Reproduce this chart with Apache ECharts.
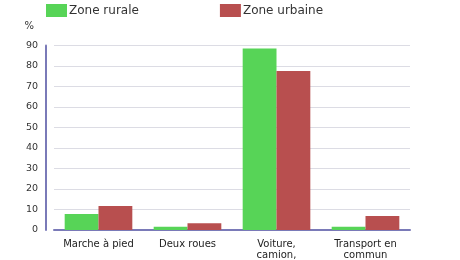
<!DOCTYPE html>
<html><head><meta charset="utf-8">
<script src="https://cdn.jsdelivr.net/npm/echarts@6/dist/echarts.min.js"></script>
<style>html,body{margin:0;padding:0;background:#fff}#c{width:460px;height:260px}</style>
</head><body><div id="c"></div>
<script>
const categories = ["Marche à pied", "Deux roues", "Voiture,\ncamion,\nfourgonnette", "Transport en\ncommun"];
const rural = [7.8, 1.6, 88.5, 1.6];
const urbain = [11.7, 3.3, 77.6, 6.8];
const seriesNames = ["Zone rurale", "Zone urbaine"];
const chart = echarts.init(document.getElementById('c'));
chart.setOption({
  animation: false,
  textStyle: {fontFamily: "DejaVu Sans"},
  legend: {
    left: 46, top: 4, itemWidth: 21, itemHeight: 13, itemGap: 81,
    icon: 'rect', padding: 0,
    textStyle: {fontSize: 12, color: '#333', padding: [0, 0, 0, -3]},
    data: seriesNames
  },
  grid: {left: 54, right: 50, top: 45.5, bottom: 30, outerBoundsMode: 'none', containLabel: false},
  xAxis: {
    type: 'category', data: categories,
    axisLine: {lineStyle: {color: '#7a7ab8', width: 2}},
    axisTick: {show: false},
    axisLabel: {fontSize: 10, color: '#222', lineHeight: 11, margin: 9, interval: 0}
  },
  yAxis: {
    type: 'value', min: 0, max: 90, interval: 10, offset: 8,
    name: '%', nameLocation: 'end', nameGap: 14,
    nameTextStyle: {fontSize: 10, color: '#333', align: 'right', padding: [0, 12, 0, 0]},
    axisLine: {show: true, lineStyle: {color: '#7a7ab8', width: 2}},
    axisTick: {show: false},
    axisLabel: {fontSize: 9.5, color: '#333', margin: 8},
    splitLine: {lineStyle: {color: '#dcdce4'}}
  },
  series: [
    {name: seriesNames[0], type: 'bar', data: rural, itemStyle: {color: '#57d457'}, barGap: '0%', barCategoryGap: '24%'},
    {name: seriesNames[1], type: 'bar', data: urbain, itemStyle: {color: '#b84f4f'}}
  ]
});
</script></body></html>
